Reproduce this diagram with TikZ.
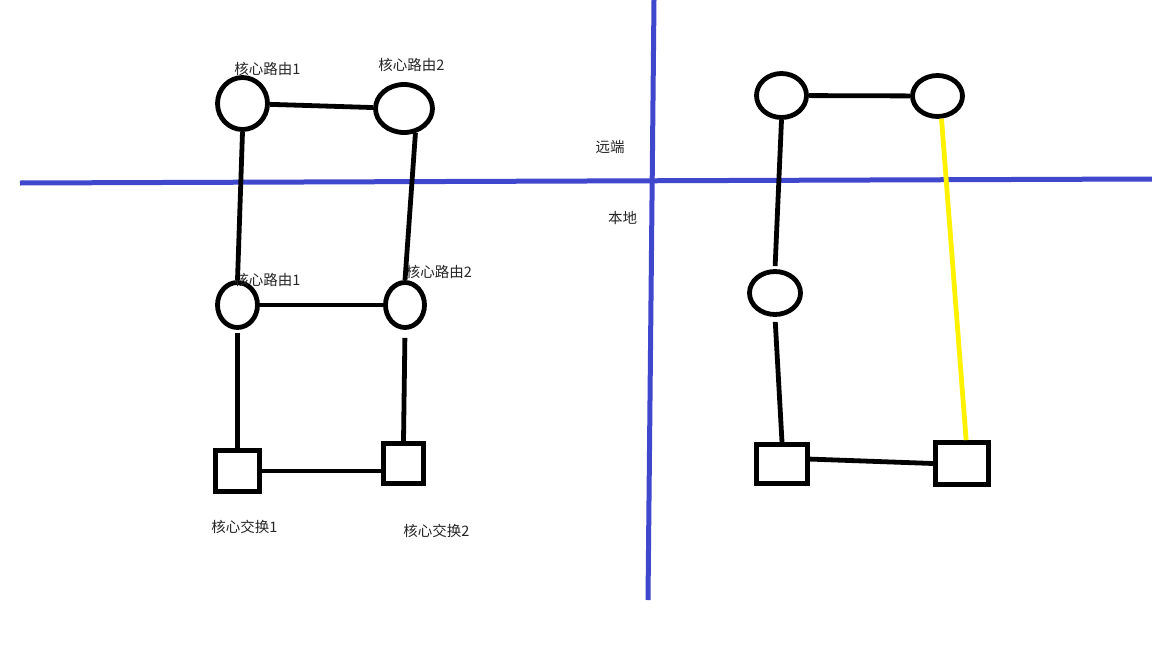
\documentclass[tikz,border=0pt]{standalone}
\usepackage{fontspec}
\newfontfamily\cjk{Noto Sans CJK SC}
\usepackage{tikz}
\usetikzlibrary{shapes.geometric}
\definecolor{paintblue}{RGB}{63,72,204}
\definecolor{paintyellow}{RGB}{255,242,0}

\tikzset{
	router/.style={ellipse, draw, line width=4.8pt, inner sep=0pt},
	switchbox/.style={rectangle, draw, line width=4.8pt, inner sep=0pt},
	link/.style={line width=4.8pt},
	lbl/.style={font=\cjk\fontsize{14.5}{16}\selectfont, inner sep=0pt, color=black!85},
}

\begin{document}
\begin{tikzpicture}[x=1pt, y=-1pt]
		%%%%% START %%%%%
		\useasboundingbox[fill=white] (0,0) rectangle (1152,648);
		
		% border lines
		\draw[line width=5pt, color=paintblue] (20,183) -- (1152,179);
		\draw[line width=5pt, color=paintblue] (654,0) -- (648,600);
		\node[lbl] (far) at (610,147) {远端};
		\node[lbl] (near) at (622.5,218) {本地};
		
		% left: routers
		\node[router, minimum width=50pt, minimum height=52pt] (ra1) at (242.5,103.5) {};
		\node[router, minimum width=57pt, minimum height=48pt] (rb1) at (404,108.5) {};
		\node[router, minimum width=40pt, minimum height=45pt] (rc1) at (237.5,305) {};
		\node[router, minimum width=39pt, minimum height=45pt] (rd1) at (405,305) {};
		\node[lbl] (ra1-lbl) at (267.5,69) {核心路由1};
		\node[lbl] (rb1-lbl) at (411.5,64.5) {核心路由2};
		\node[lbl] (rc1-lbl) at (267.5,280) {核心路由1};
		\node[lbl] (rd1-lbl) at (439,272) {核心路由2};
		
		% left: switches
		\node[switchbox, minimum width=44pt, minimum height=41pt] (se1) at (237.5,471) {};
		\node[switchbox, minimum width=40pt, minimum height=40pt] (sf1) at (403.5,463.5) {};
		\node[lbl] (se1-lbl) at (244.5,527) {核心交换1};
		\node[lbl] (sf1-lbl) at (436.5,530.5) {核心交换2};
		
		\draw[link] (ra1) -- (rb1);
		\draw[link] (ra1.south) -- (rc1.north);
		\draw[link] (rb1.-65) -- (rd1.north);
		\draw[link] (rc1) -- (rd1);
		\draw[link, shorten <=3pt] (rc1.south) -- (se1.north);
		\draw[link, shorten <=8pt] (rd1.south) -- (sf1.north);
		\draw[link] (se1.east) -- (se1.east -| sf1.west);
		
		% right
		\node[router, minimum width=50pt, minimum height=44pt] (rg) at (781.5,95.5) {};
		\node[router, minimum width=50pt, minimum height=41pt] (rh) at (937.5,96) {};
		\node[router, minimum width=51pt, minimum height=43pt] (ri) at (775,293) {};
		\node[switchbox, minimum width=51pt, minimum height=39pt] (sj) at (782,464) {};
		\node[switchbox, minimum width=53pt, minimum height=42pt] (sk) at (962,463.5) {};
		
		\draw[link] (rg) -- (rh);
		\draw[link, shorten >=3pt] (rg.south) -- (ri.north);
		\draw[link, shorten <=5pt] (ri.south) -- (sj.north);
		\draw[link] (sj.10) -- (sk.west);
		\draw[link, color=paintyellow] (rh.-80) -- (sk.80);
		
		%%%%% END %%%%%
	\end{tikzpicture}
\end{document}
